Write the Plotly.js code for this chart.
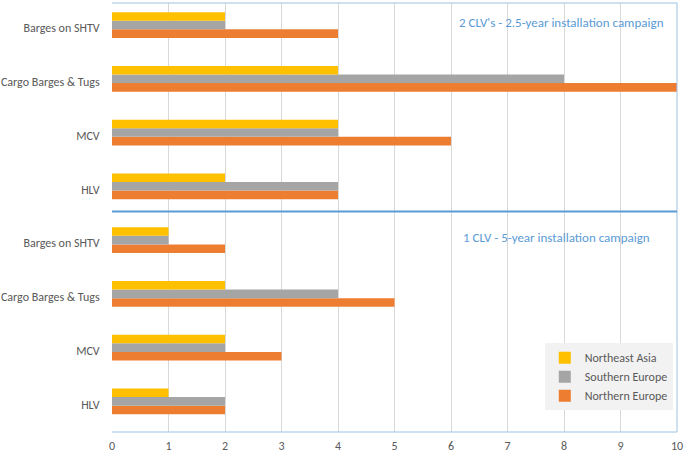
<!DOCTYPE html>
<html><head><meta charset="utf-8">
<script src="https://cdn.plot.ly/plotly-3.0.1.min.js"></script>
<style>body{margin:0;background:#fff}#c{width:685px;height:452px}</style>
</head><body><div id="c"></div>
<script>
// Category labels, bottom to top (HLV of 1-CLV panel at bottom)
const categories = ["HLV","MCV","Cargo Barges & Tugs","Barges on SHTV","HLV","MCV","Cargo Barges & Tugs","Barges on SHTV"];
const positions = [0,1,2,3,4,5,6,7];
// values bottom-to-top, first 4 = "1 CLV - 5-year", last 4 = "2 CLV's - 2.5-year"
const northernEurope = [2,3,5,2, 4,6,10,4];
const southernEurope = [2,2,4,1, 4,4,8,2];
const northeastAsia  = [1,2,2,1, 2,4,4,2];
const xTicks = [0,1,2,3,4,5,6,7,8,9,10];
const panelTitles = ["2 CLV's - 2.5-year installation campaign","1 CLV - 5-year installation campaign"];

const font = "Carlito, Liberation Sans, Arial, sans-serif";
const traces = [
  {type:'bar',orientation:'h',name:'Northern Europe',y:positions,x:northernEurope,marker:{color:'#ed7d31'}},
  {type:'bar',orientation:'h',name:'Southern Europe',y:positions,x:southernEurope,marker:{color:'#a5a5a5'}},
  {type:'bar',orientation:'h',name:'Northeast Asia',y:positions,x:northeastAsia,marker:{color:'#ffc000'}}
];
const layout = {
  width:685,height:452,
  margin:{l:112,r:8,t:3,b:20},
  paper_bgcolor:'#fff',plot_bgcolor:'#fff',
  barmode:'group',bargap:0.52,bargroupgap:0,
  font:{family:font,size:12,color:'#595959'},
  xaxis:{range:[0,10],tickvals:xTicks,showgrid:true,gridcolor:'#d9d9d9',gridwidth:1,zeroline:false,
         showline:false,ticks:'outside',ticklen:1,ticklabelstandoff:2,tickcolor:'rgba(0,0,0,0)',tickfont:{size:12,color:'#595959'},fixedrange:true},
  yaxis:{range:[-0.57,7.41],tickvals:positions,ticktext:categories,showgrid:false,zeroline:false,
         ticks:'outside',ticklen:9,ticklabelshift:3,tickcolor:'rgba(0,0,0,0)',tickfont:{size:12,color:'#595959'},fixedrange:true},
  showlegend:true,
  legend:{x:0.766,y:0.207,xanchor:'left',yanchor:'top',bgcolor:'#f2f2f2',traceorder:'reversed',
          font:{size:12,color:'#595959'},itemwidth:30,tracegroupgap:0},
  shapes:[
    {type:'line',xref:'paper',yref:'paper',x0:0,x1:1,y0:1,y1:1,line:{color:'#9dc3e6',width:1}},
    {type:'line',xref:'paper',yref:'paper',x0:1,x1:1,y0:0,y1:1,line:{color:'#9dc3e6',width:1}},
    {type:'line',xref:'paper',yref:'paper',x0:0,x1:1,y0:0,y1:0,line:{color:'#9dc3e6',width:1}},
    {type:'line',xref:'paper',yref:'y',x0:0,x1:1,y0:3.53,y1:3.53,line:{color:'#5b9bd5',width:2}}
  ],
  annotations:[
    {text:panelTitles[0],xref:'paper',yref:'y',x:0.98,y:7.05,xanchor:'right',yanchor:'middle',showarrow:false,font:{size:13,color:'#5b9bd5'}},
    {text:panelTitles[1],xref:'paper',yref:'y',x:0.955,y:3.04,xanchor:'right',yanchor:'middle',showarrow:false,font:{size:13,color:'#5b9bd5'}}
  ]
};
Plotly.newPlot('c',traces,layout,{displayModeBar:false,staticPlot:true});
</script></body></html>
